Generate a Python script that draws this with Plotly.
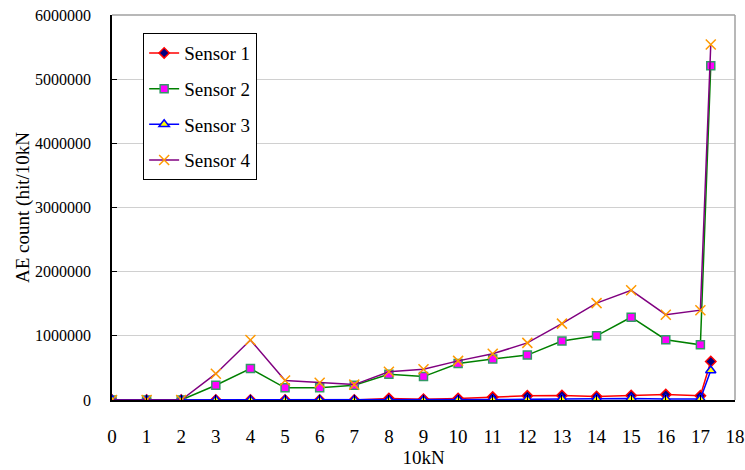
import plotly.graph_objects as go

# Load steps (10 kN) and AE hit counts per sensor
load = [0, 1, 2, 3, 4, 5, 6, 7, 8, 9, 10, 11, 12, 13, 14, 15, 16, 17, 17.3]
sensor1 = [0, 0, 0, 0, 0, 0, 0, 0, 25000, 10000, 25000, 45000, 65000, 70000,
           55000, 70000, 85000, 65000, 600000]
sensor2 = [0, 0, 0, 230000, 490000, 190000, 190000, 230000, 400000, 365000,
           570000, 640000, 700000, 920000, 1000000, 1290000, 940000, 860000, 5210000]
sensor3 = [0, 0, 0, 0, 0, 0, 0, 0, 0, 0, 5000, 8000, 10000, 15000, 18000,
           25000, 15000, 15000, 460000]
sensor4 = [0, 0, 0, 410000, 935000, 305000, 270000, 240000, 440000, 480000,
           610000, 720000, 890000, 1190000, 1510000, 1710000, 1330000, 1400000, 5540000]

y_ticks = [0, 1000000, 2000000, 3000000, 4000000, 5000000, 6000000]
x_ticks = list(range(0, 19))

series = [
    ("Sensor 1", sensor1, dict(color="#FF0000", width=1.5),
     dict(symbol="diamond", size=8, color="#000080", line=dict(color="#FF0000", width=1.5))),
    ("Sensor 2", sensor2, dict(color="#008000", width=1.5),
     dict(symbol="square", size=8, color="#FF00FF", line=dict(color="#339966", width=1.5))),
    ("Sensor 3", sensor3, dict(color="#0000FF", width=1.5),
     dict(symbol="triangle-up", size=9, color="#FFFF00", line=dict(color="#0000FF", width=1.5))),
    ("Sensor 4", sensor4, dict(color="#800080", width=1.5),
     dict(symbol="x-thin", size=10, color="#FF9900", line=dict(color="#FF9900", width=1.5))),
]

fig = go.Figure()
for i, (name, vals, ln, mk) in enumerate(series):
    fig.add_trace(go.Scatter(
        x=load, y=vals, name=name, mode="lines+markers",
        line=ln, marker=mk, legendgroup=f"g{i}",
    ))

serif = "Liberation Serif, Times New Roman, DejaVu Serif, serif"

fig.update_layout(
    width=745, height=470,
    margin=dict(l=112, r=10, t=15, b=70),
    paper_bgcolor="white", plot_bgcolor="white",
    font=dict(family=serif, color="black"),
    showlegend=True,
    legend=dict(
        x=0.05, y=0.953, xanchor="left", yanchor="top",
        bgcolor="white", bordercolor="black", borderwidth=1,
        font=dict(family=serif, size=19, color="black"),
        tracegroupgap=8, itemwidth=30,
    ),
    xaxis=dict(
        range=[0, 18], tickvals=x_ticks, ticktext=[str(v) for v in x_ticks],
        showgrid=False, zeroline=False, automargin=False,
        ticklabeloverflow="allow",
        showline=True, linecolor="black", linewidth=1.5,
        ticks="inside", ticklen=5, tickcolor="black",
        tickfont=dict(family=serif, size=19),
        ticklabelstandoff=18,
        title=dict(text="10kN", font=dict(family=serif, size=19), standoff=3),
    ),
    yaxis=dict(
        range=[0, 6000000], tickvals=y_ticks, ticktext=[str(v) for v in y_ticks],
        showgrid=True, gridcolor="#D0D0D0", gridwidth=1, zeroline=False, automargin=False,
        showline=True, linecolor="black", linewidth=1.5,
        ticks="inside", ticklen=5, tickcolor="black",
        tickfont=dict(family=serif, size=16),
        ticklabelstandoff=16,
        title=dict(text="AE count (hit/10kN", font=dict(family=serif, size=19), standoff=0),
    ),
    shapes=[
        dict(type="line", xref="paper", yref="paper", x0=1, x1=1, y0=0, y1=1,
             line=dict(color="#A0A0A0", width=1.5)),
        dict(type="line", xref="paper", yref="paper", x0=0, x1=1, y0=1, y1=1,
             line=dict(color="#A0A0A0", width=1.5)),
    ],
)

fig.write_html("out.html")
